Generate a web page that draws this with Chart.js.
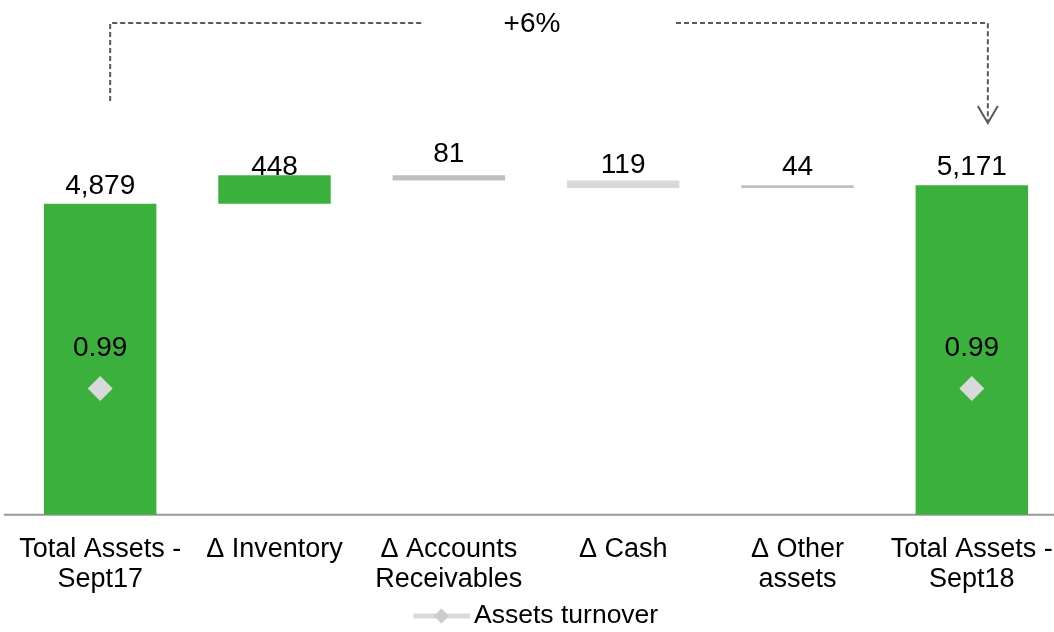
<!DOCTYPE html>
<html>
<head>
<meta charset="utf-8">
<title>Total Assets</title>
<script src="https://cdn.jsdelivr.net/npm/chart.js@4.4.0/dist/chart.umd.min.js"></script>
<style>
  html, body { margin: 0; padding: 0; background: #fff; overflow: hidden; }
  #wrap { width: 1060px; height: 632px; }
</style>
</head>
<body>
<div id="wrap"><canvas id="assets-chart"></canvas></div>
<script>
// ======== Data ========
const categories = [
  ['Total Assets -', 'Sept17'],
  'Δ Inventory',
  ['Δ Accounts', 'Receivables'],
  'Δ Cash',
  ['Δ Other', 'assets'],
  ['Total Assets -', 'Sept18']
];
const changes = [4879, 448, -81, -119, 44, 5171];
const isTotal = [true, false, false, false, false, true];
const turnover = [0.99, null, null, null, null, 0.99];

// ======== Styles ========
const GREEN = '#3cb03c';
const barColors = [GREEN, GREEN, '#bfbfbf', '#d9d9d9', '#bfbfbf', GREEN];
const labelLift = [18, 8, 21, 15, 18, 18];   // gap between bar top and its value label
const FONT = "'Liberation Sans', Arial, sans-serif";

Chart.defaults.font.family = FONT;
Chart.defaults.font.size = 27;
Chart.defaults.color = '#000';

// floating ranges for the waterfall
let running = 0;
const ranges = changes.map((v, i) => {
  if (isTotal[i]) { running = v; return [0, v]; }
  const r = [running, running + v];
  running += v;
  return r;
});

const growth = Math.round((changes[5] / changes[0] - 1) * 100);

// legend icon: grey line with a diamond in the middle
function legendIcon() {
  const c = document.createElement('canvas');
  c.width = 66; c.height = 16;
  const g = c.getContext('2d');
  g.fillStyle = '#d9d9d9';
  g.fillRect(9, 5.5, 57, 5);
  g.fillStyle = '#cccccc';
  g.beginPath();
  g.moveTo(37, 0.5); g.lineTo(44.5, 8); g.lineTo(37, 15.5); g.lineTo(29.5, 8);
  g.closePath();
  g.fill();
  return c;
}

// ======== Annotations ========
const annotations = {
  id: 'annotations',
  beforeDatasetsDraw(chart) {
    const ctx = chart.ctx;
    const y0 = chart.scales.y.getPixelForValue(0);
    ctx.save();
    ctx.strokeStyle = '#999999';
    ctx.lineWidth = 2;
    ctx.beginPath();
    ctx.moveTo(4, y0);
    ctx.lineTo(chart.width, y0);
    ctx.stroke();
    ctx.restore();
  },
  afterDatasetsDraw(chart) {
    const ctx = chart.ctx;
    ctx.save();
    ctx.font = '28px ' + FONT;
    ctx.fillStyle = '#000';
    ctx.textAlign = 'center';
    ctx.textBaseline = 'middle';

    const bars = chart.getDatasetMeta(1).data;
    bars.forEach((bar, i) => {
      const top = Math.min(bar.y, bar.base);
      ctx.fillText(Math.abs(changes[i]).toLocaleString('en-US'), bar.x, top - labelLift[i]);
    });

    const points = chart.getDatasetMeta(0).data;
    points.forEach((p, i) => {
      if (turnover[i] == null) return;
      ctx.fillText(turnover[i].toFixed(2), p.x, p.y - 40);
    });
    ctx.restore();
  },
  afterDraw(chart) {
    const ctx = chart.ctx;
    const bars = chart.getDatasetMeta(1).data;
    const xl = bars[0].x + 10;
    const xr = bars[5].x + 16;
    const top = 23, leftEnd = 101, tip = 123;

    ctx.save();
    ctx.strokeStyle = '#5a5a5a';
    ctx.lineWidth = 2;
    ctx.setLineDash([5, 3]);
    ctx.beginPath();
    ctx.moveTo(xl, leftEnd); ctx.lineTo(xl, top); ctx.lineTo(423, top);
    ctx.moveTo(676, top); ctx.lineTo(xr, top); ctx.lineTo(xr, tip - 2);
    ctx.stroke();

    ctx.setLineDash([]);
    ctx.beginPath();
    ctx.moveTo(xr - 10, tip - 17); ctx.lineTo(xr, tip); ctx.lineTo(xr + 10, tip - 17);
    ctx.stroke();

    ctx.font = '28px ' + FONT;
    ctx.fillStyle = '#000';
    ctx.textAlign = 'center';
    ctx.textBaseline = 'middle';
    ctx.fillText('+' + growth + '%', 532, 24);
    ctx.restore();
  }
};

// ======== Chart ========
const ctx = document.getElementById('assets-chart').getContext('2d');
new Chart(ctx, {
  type: 'bar',
  data: {
    labels: categories,
    datasets: [
      {
        type: 'line',
        label: 'Assets turnover',
        data: turnover,
        yAxisID: 'y2',
        showLine: false,
        pointStyle: 'rectRot',
        pointRadius: 12.5,
        pointBackgroundColor: '#d9d9d9',
        pointBorderWidth: 0,
        order: 0
      },
      {
        label: 'Total assets',
        data: ranges,
        backgroundColor: barColors,
        barPercentage: 0.645,
        categoryPercentage: 1,
        order: 1
      }
    ]
  },
  options: {
    responsive: true,
    maintainAspectRatio: false,
    animation: false,
    layout: { autoPadding: false, padding: { left: 13, right: 1, top: 5, bottom: -7.2 } },
    scales: {
      x: {
        grid: { display: false, drawTicks: true, tickLength: 17 },
        border: { display: false },
        ticks: { padding: 3, autoSkip: false, maxRotation: 0, color: '#000', font: { size: 27, lineHeight: 1.11 } }
      },
      y: { display: false, min: 0, max: 8000 },
      y2: { display: false, min: 0, max: 4 }
    },
    plugins: {
      tooltip: { enabled: false },
      legend: {
        position: 'bottom',
        labels: {
          usePointStyle: true,
          pointStyleWidth: 47,
          padding: 5,
          color: '#000',
          font: { size: 26.5 },
          generateLabels: () => [{
            text: 'Assets turnover',
            pointStyle: legendIcon(),
            fillStyle: '#d9d9d9',
            strokeStyle: '#d9d9d9',
            lineWidth: 0,
            datasetIndex: 0,
            hidden: false
          }]
        }
      }
    }
  },
  plugins: [annotations]
});
</script>
</body>
</html>
